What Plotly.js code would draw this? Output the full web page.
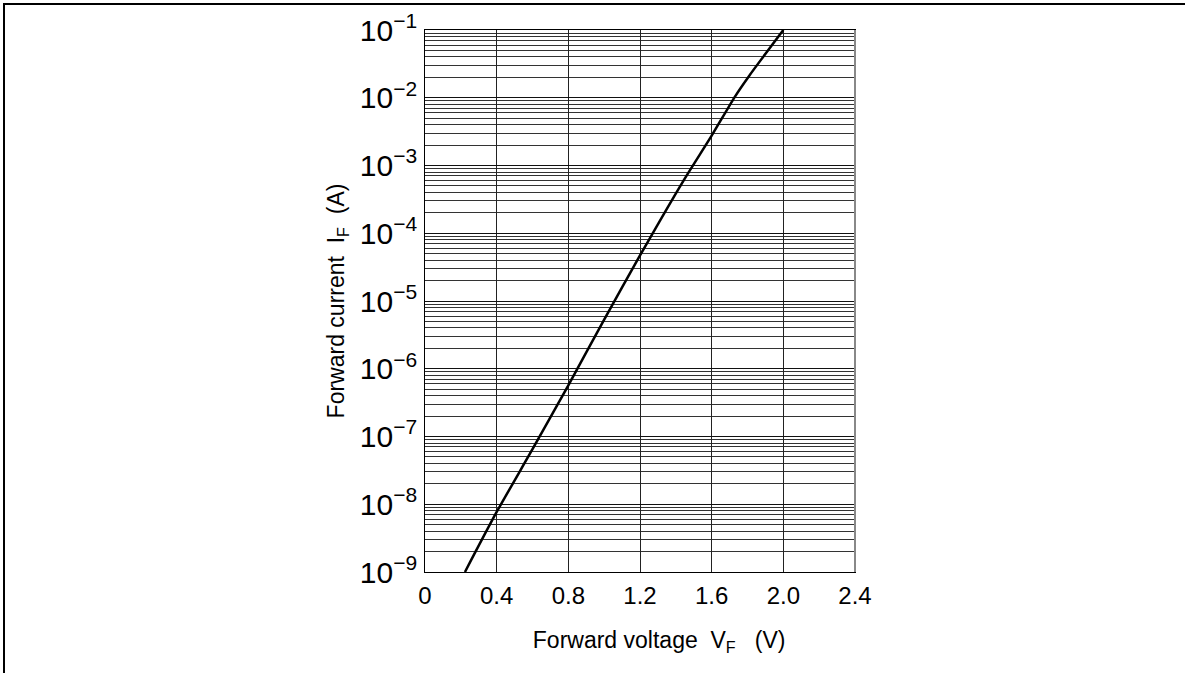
<!DOCTYPE html>
<html>
<head>
<meta charset="utf-8">
<script src="https://cdn.plot.ly/plotly-3.0.1.min.js"></script>
<style>
  html, body { margin: 0; padding: 0; background: #fff; }
  #chart { position: absolute; left: 0; top: 0; width: 1185px; height: 673px; }
  #frame { position: absolute; left: 3px; top: 3px; width: 1182px; height: 670px;
           border-top: 2px solid #000; border-left: 2px solid #000; pointer-events: none; box-sizing: border-box; }
</style>
</head>
<body>
<div id="chart"></div>
<div id="frame"></div>
<script>
// Forward voltage V_F (V)
const forwardVoltage = [0.223, 0.4, 0.6, 0.8, 1.0, 1.2, 1.443, 1.6, 1.731, 1.809, 2.0];
// Forward current I_F (A)
const forwardCurrent = [1e-9, 7.7e-9, 6.5e-8, 5.7e-7, 5.3e-6, 4.7e-5, 6.0e-4, 2.76e-3, 1.05e-2, 2.1e-2, 1.0e-1];
const xTickValues = [0, 0.4, 0.8, 1.2, 1.6, 2.0, 2.4];
const xTickLabels = ['0', '0.4', '0.8', '1.2', '1.6', '2.0', '2.4'];

const NB = '\u00a0';
const ZW = '\u200b';
const fontFamily = 'Liberation Sans, Arial, sans-serif';

const trace = {
  x: forwardVoltage,
  y: forwardCurrent,
  type: 'scatter',
  mode: 'lines',
  line: { color: '#000', width: 2.5, shape: 'spline', smoothing: 0.7 },
  hoverinfo: 'x+y',
  showlegend: false
};

const layout = {
  width: 1185,
  height: 673,
  margin: { l: 425, r: 329.5, t: 29.5, b: 101.3 },
  paper_bgcolor: '#fff',
  plot_bgcolor: '#fff',
  font: { family: fontFamily, size: 24, color: '#000' },
  showlegend: false,
  xaxis: {
    range: [0, 2.4],
    tickmode: 'array',
    tickvals: xTickValues,
    ticktext: xTickLabels,
    ticks: '',
    ticklabelstandoff: 2,
    showgrid: true,
    gridcolor: '#222',
    gridwidth: 1,
    zeroline: false,
    showline: true,
    linecolor: '#000',
    linewidth: 1,
    mirror: true,
    tickfont: { family: fontFamily, size: 24, color: '#000' },
    title: {
      text: ZW + NB.repeat(6) + 'Forward voltage' + NB + NB + 'V<sub>F</sub>' + NB + NB + NB + '(V)',
      font: { family: fontFamily, size: 23, color: '#000' },
      standoff: 24
    }
  },
  yaxis: {
    type: 'log',
    range: [-9, -1],
    dtick: 1,
    exponentformat: 'power',
    ticks: '',
    ticklabelstandoff: 2,
    showgrid: true,
    gridcolor: '#111',
    gridwidth: 1,
    minor: { dtick: 'D1', showgrid: true, gridcolor: '#333', gridwidth: 1, ticks: '' },
    zeroline: false,
    showline: true,
    linecolor: '#000',
    linewidth: 1,
    mirror: true,
    tickfont: { family: fontFamily, size: 24, color: '#000' },
    title: {
      text: 'Forward current' + NB + NB + 'I<sub>F</sub>' + NB + NB + '(A)',
      font: { family: fontFamily, size: 23, color: '#000' },
      standoff: 8
    }
  },
  shapes: [
    { type: 'line', xref: 'paper', yref: 'paper', x0: 1, x1: 1, y0: 0, y1: 1,
      line: { color: '#888', width: 2 } }
  ]
};

Plotly.newPlot('chart', [trace], layout, { displayModeBar: false, staticPlot: true });
</script>
</body>
</html>
